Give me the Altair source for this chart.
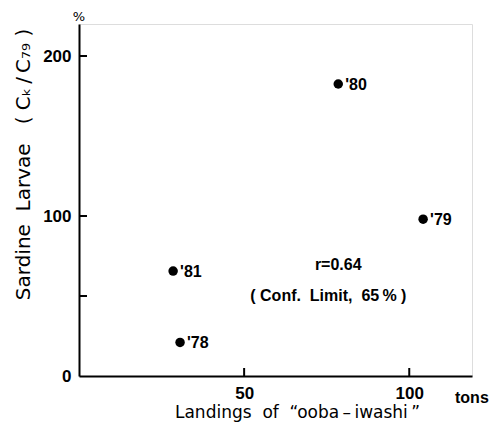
import altair as alt
import pandas as pd

# data
years = ["'78", "'79", "'80", "'81"]
landings = [30.6, 104.2, 78.5, 28.5]
larvae = [21, 98, 182.5, 65.6]

note_text = ["r=0.64", "(\u00a0Conf.\u00a0 Limit,\u00a0 65\u2009%\u00a0)"]
note_x = [78.5, 75.5]
note_y = [69.5, 50]

y_tick_vals = [50, 100, 200]
x_tick_vals = [50, 100]

W, H = 393, 352
FONT = "Liberation Sans"
TFONT = "DejaVu Sans"
NB = "\u00a0"
TH = "\u2009"

pts = pd.DataFrame({"x": landings, "y": larvae, "label": years})
notes = pd.DataFrame({"x": note_x, "y": note_y, "t": note_text})
yt = pd.DataFrame({"y": y_tick_vals})
xt = pd.DataFrame({"x": x_tick_vals})

xs = alt.Scale(domain=[0, 119], nice=False, zero=True)
ys = alt.Scale(domain=[0, 220], nice=False, zero=True)

base = alt.Chart(pts)

x_title = f'Landings{NB} of{NB} \u201cooba{TH}–{TH}iwashi{TH}\u201d'
y_title = f"Sardine{NB} Larvae{NB} {NB}({NB}Cₖ{TH}/{TH}C₇₉{NB})"

points = base.mark_circle(size=90, color="black", opacity=1).encode(
    x=alt.X("x:Q", scale=xs, axis=alt.Axis(
        values=[50, 100], ticks=False, grid=False, domainColor="black", domainWidth=2,
        labelFont=FONT, labelFontSize=17, labelFontWeight="bold", labelColor="black",
        labelPadding=9, title=x_title, titleFont=TFONT,
        titleFontSize=17, titleFontWeight="normal", titleColor="black", titlePadding=3,
        titleX=218)),
    y=alt.Y("y:Q", scale=ys, axis=alt.Axis(
        values=[0, 100, 200], ticks=False, grid=False, domainColor="black", domainWidth=2,
        labelFont=FONT, labelFontSize=17, labelFontWeight="bold", labelColor="black",
        labelPadding=8, title=y_title, titleFont=TFONT,
        titleFontSize=20, titleFontWeight="normal", titleColor="black", titlePadding=9,
        titleY=140)),
)

labels = base.mark_text(align="left", baseline="middle", dx=7, dy=1, font=FONT,
                        fontSize=16, fontWeight="bold", color="black").encode(
    x=alt.X("x:Q", scale=xs), y=alt.Y("y:Q", scale=ys), text="label:N")

note = alt.Chart(notes).mark_text(align="center", baseline="middle", font=FONT,
                                  fontSize=16, fontWeight="bold", color="black").encode(
    x=alt.X("x:Q", scale=xs), y=alt.Y("y:Q", scale=ys), text="t:N")

ytick = alt.Chart(yt).mark_rule(color="black", strokeWidth=2).encode(
    y=alt.Y("y:Q", scale=ys), x=alt.value(0), x2=alt.value(8))
xtick = alt.Chart(xt).mark_rule(color="black", strokeWidth=2).encode(
    x=alt.X("x:Q", scale=xs), y=alt.value(H), y2=alt.value(H - 8))

pct = alt.Chart(pd.DataFrame({"t": ["%"]})).mark_text(
    font=TFONT, fontSize=13, color="black", align="center", baseline="middle").encode(
    x=alt.value(0), y=alt.value(-7), text="t:N")
tons = alt.Chart(pd.DataFrame({"t": ["tons"]})).mark_text(
    font=FONT, fontSize=16, fontWeight="bold", color="black", align="left",
    baseline="middle").encode(x=alt.value(W - 17), y=alt.value(H + 22), text="t:N")

chart = alt.layer(points, labels, note, ytick, xtick, pct, tons).properties(
    width=W, height=H,
    autosize=alt.AutoSizeParams(type="none"),
    padding={"left": 71, "top": 16, "right": 18, "bottom": 49},
).configure_view(stroke=None).configure(background="white")

chart.save("out.html", embed_options={"renderer": "svg", "actions": False})
